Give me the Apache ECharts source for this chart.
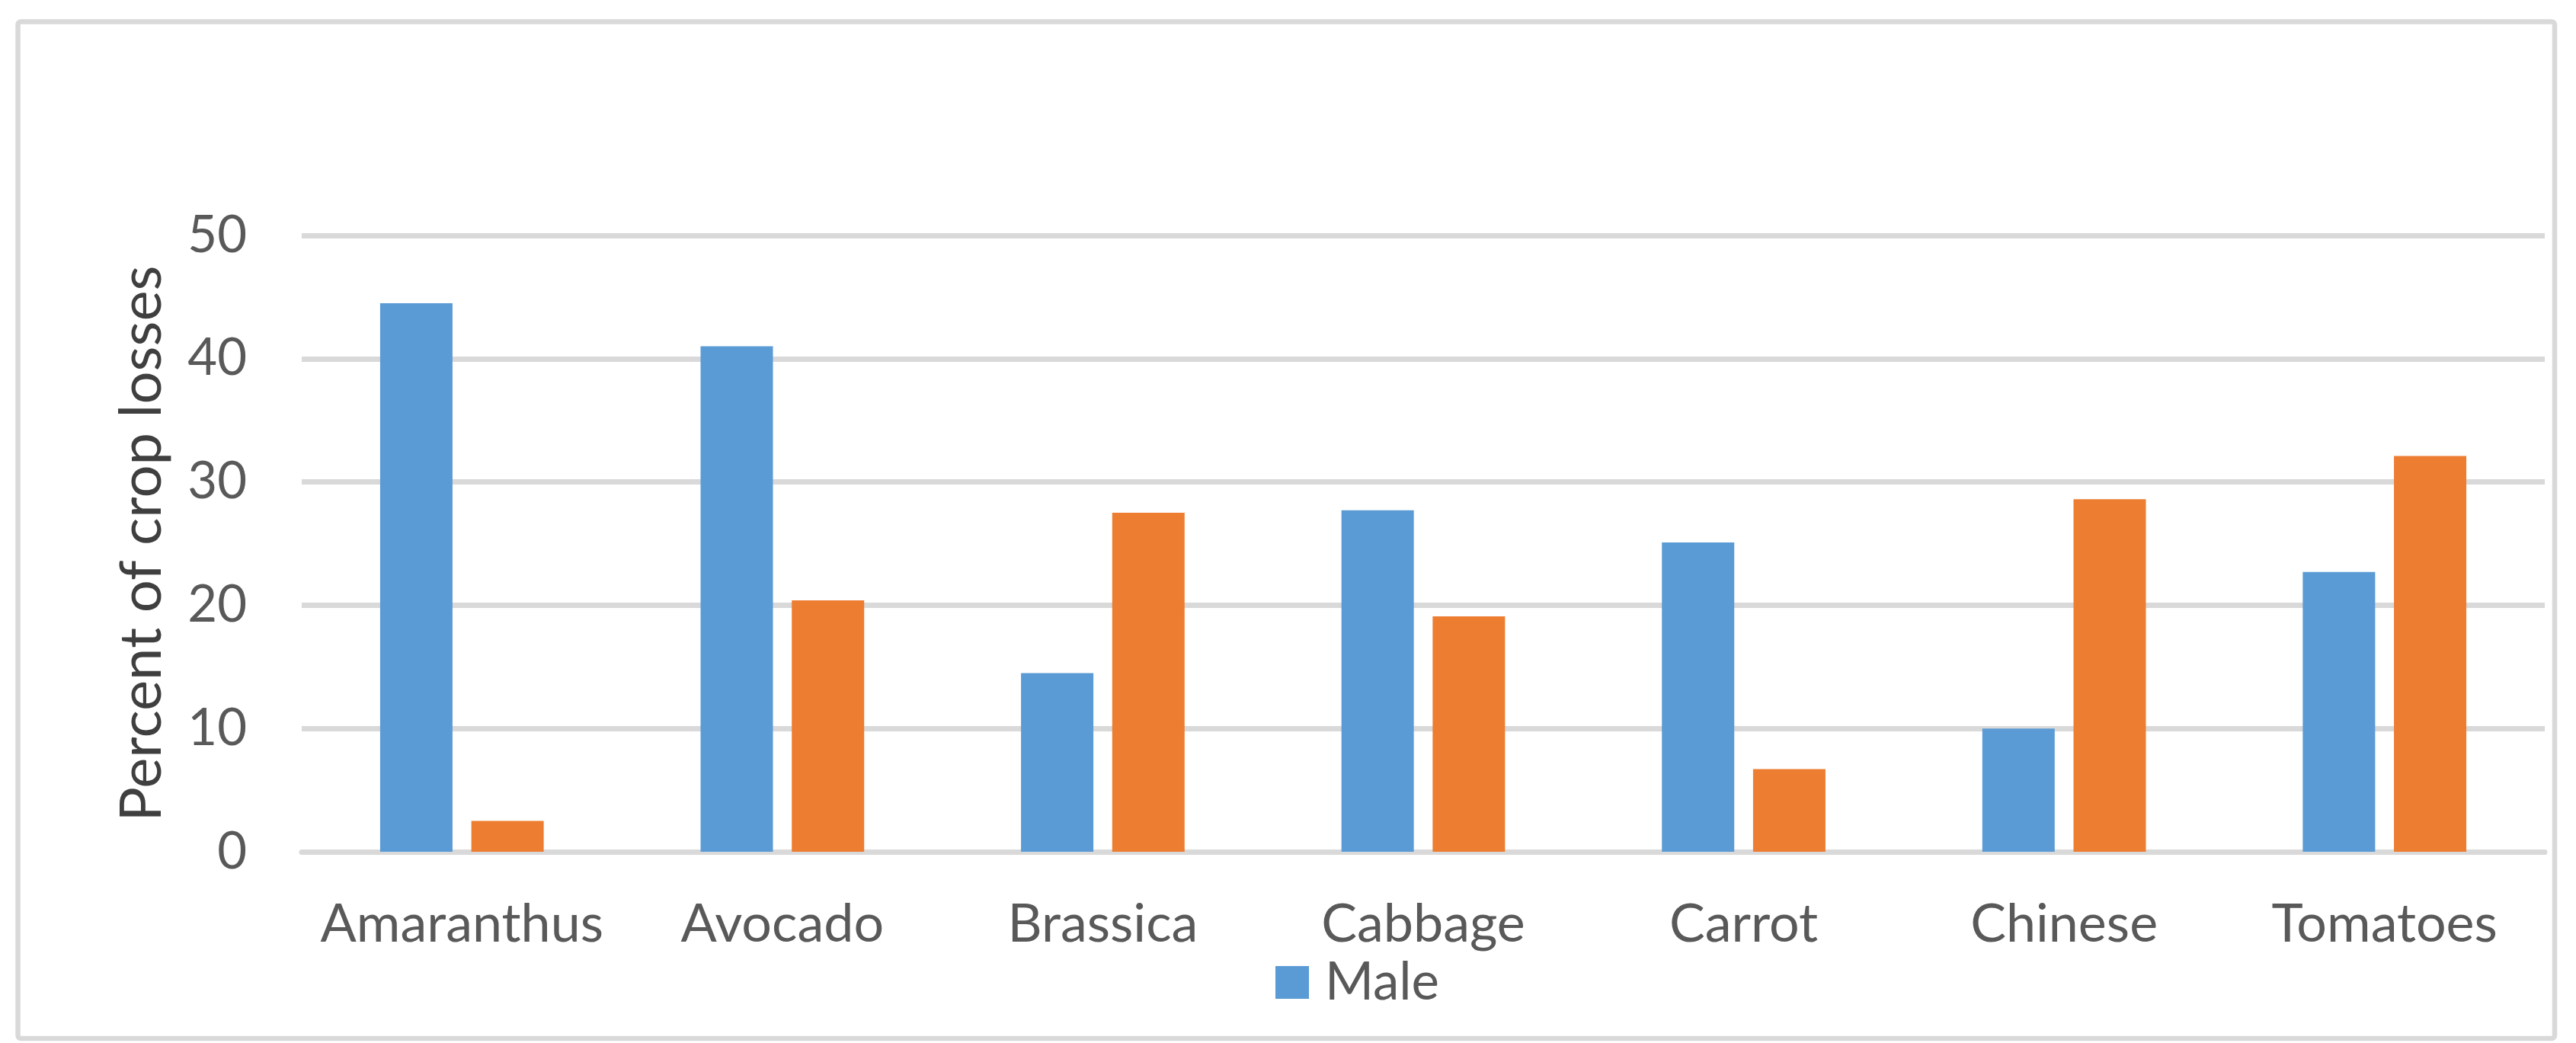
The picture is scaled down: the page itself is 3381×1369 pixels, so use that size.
<!DOCTYPE html>
<html>
<head>
<meta charset="utf-8">
<script src="https://cdn.jsdelivr.net/npm/echarts@6/dist/echarts.min.js"></script>
<style>
html,body{margin:0;padding:0;background:#fff;}
#chart{width:3381px;height:1369px;}
</style>
</head>
<body>
<div id="chart"></div>
<script>
var categories = ['Amaranthus', 'Avocado', 'Brassica', 'Cabbage', 'Carrot', 'Chinese', 'Tomatoes'];
var maleValues = [44.5, 41.0, 14.5, 27.7, 25.1, 10.0, 22.7];
var femaleValues = [2.5, 20.4, 27.5, 19.1, 6.7, 28.6, 32.1];
var yTicks = [0, 10, 20, 30, 40, 50];
var yTitle = 'Percent of crop losses';

var FONT = 'Lato';
var chart = echarts.init(document.getElementById('chart'), null, {renderer: 'canvas'});
chart.setOption({
  animation: false,
  backgroundColor: '#ffffff',
  graphic: [{
    type: 'rect',
    shape: {x: 23.5, y: 28.5, width: 3329.5, height: 1334.5, r: 4},
    style: {fill: 'none', stroke: '#d9d9d9', lineWidth: 6.5},
    z: -1
  }],
  grid: {left: 396, right: 41, top: 309, bottom: 251, containLabel: false},
  legend: {
    data: ['Male'],
    left: 1674,
    top: 1255,
    itemWidth: 44,
    itemHeight: 43,
    icon: 'rect',
    textStyle: {fontFamily: FONT, fontSize: 69, color: '#595959', padding: [0, 0, 0, 16]},
    itemGap: 40,
    padding: 0
  },
  xAxis: {
    type: 'category',
    data: categories,
    axisLine: {show: true, lineStyle: {color: '#d9d9d9', width: 7}},
    axisTick: {show: false},
    axisLabel: {fontFamily: FONT, fontSize: 70, color: '#595959', margin: 60, interval: 0}
  },
  yAxis: {
    type: 'value',
    min: yTicks[0],
    max: yTicks[yTicks.length - 1],
    interval: 10,
    name: yTitle,
    nameLocation: 'middle',
    nameRotate: 90,
    nameGap: 172,
    nameTextStyle: {fontFamily: FONT, fontSize: 76, color: '#3f3f3f'},
    axisLine: {show: false},
    axisTick: {show: false},
    axisLabel: {fontFamily: FONT, fontSize: 67, color: '#595959', margin: 72},
    splitLine: {show: true, lineStyle: {color: '#d9d9d9', width: 7}}
  },
  series: [{
    name: 'Male',
    type: 'bar',
    data: maleValues,
    barWidth: 95,
    barGap: '26%',
    itemStyle: {color: '#5b9bd5'}
  }, {
    name: 'Female',
    type: 'bar',
    data: femaleValues,
    barWidth: 95,
    barGap: '26%',
    itemStyle: {color: '#ed7d31'}
  }]
});
</script>
</body>
</html>
